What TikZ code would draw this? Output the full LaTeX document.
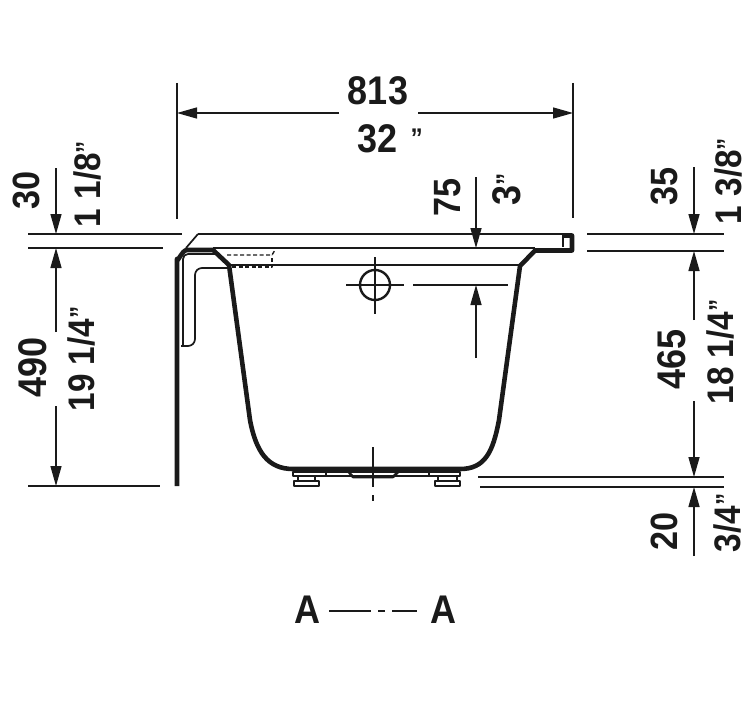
\documentclass[tikz,border=0pt]{standalone}
\usepackage{fontspec}
\setmainfont[FakeStretch=0.9]{Liberation Sans}
\usetikzlibrary{arrows.meta}
\definecolor{ink}{HTML}{1A1A1A}
\newcommand{\inch}{\raisebox{.14em}{\fontsize{27}{27}\selectfont ”}}

\begin{document}
\begin{tikzpicture}[x=1pt, y=-1pt, color=ink, line join=round,
    >={Triangle[length=20pt, width=11pt]},
    dim/.style = {line width=1.5pt},
    fine/.style = {line width=1.7pt},
    hull/.style = {line width=4.6pt},
    hidden/.style = {line width=1.4pt, dash pattern=on 4pt off 2.5pt},
    big/.style = {font=\fontsize{40}{40}\selectfont\bfseries, inner sep=0pt},
    mid/.style = {font=\fontsize{38}{38}\selectfont\bfseries, inner sep=0pt, rotate=90},
    small/.style = {font=\fontsize{37}{37}\selectfont\bfseries, inner sep=0pt, rotate=90},
    sect/.style = {font=\fontsize{40}{40}\selectfont\bfseries, inner sep=0pt}]
            \useasboundingbox (0,0) rectangle (755,701);

            %the tub

            \draw[hull] (177,486) -- (177,259) to [out=-90, in=180] (187,250) -- (213,250) -- (229,265) -- (250,420)
                .. controls (256,452) and (268,469) .. (293,469) -- (460,469)
                .. controls (485,469) and (493,452) .. (499,420) -- (520,266) -- (535,250.5) -- (572,250.5) -- (572,235.5) -- (563,235.5);
            \draw[fine] (563,234) -- (563,247);
            \draw[fine] (198,234) -- (565,234);
            \draw[fine] (186,248) -- (198,234);
            \draw[fine] (213,248) -- (535,248);
            \draw[fine] (228,265) -- (520,265);

            %the flange

            \draw[fine, rounded corners=5pt] (183,346) -- (183,254) -- (215,254);
            \draw[fine, rounded corners=7pt] (181,346) -- (195,346) -- (195,268) -- (229,268);
            \draw[hidden] (227,255) -- (272,255) -- (275,250);
            \draw[hidden] (232,267) -- (272,267) -- (272,255);

            %the feet and the drain

            \draw[fine] (293,472) rectangle (460,476);
            \draw[fine] (326,470) -- (326,476);
            \draw[fine] (429,470) -- (429,476);
            \draw[fine] (294,481) rectangle (319,486);
            \draw[fine] (298,476) -- (298,481);
            \draw[fine] (315,476) -- (315,481);
            \draw[fine] (435,481) rectangle (460,486);
            \draw[fine] (438,476) -- (438,481);
            \draw[fine] (457,476) -- (457,481);
            \draw[line width=2.6pt] (347,470) -- (353,477) -- (393,477) -- (400,470);

            %the overflow and the centre lines

            \draw[line width=2.4pt] (375,285) circle (15pt);
            \draw[dim] (375,257) -- (375,314);
            \draw[dim] (346,285) -- (404,285);
            \draw[dim] (373,447) -- (373,487);
            \draw[dim] (373,495) -- (373,501);

            %above the tub

            \coordinate (W1) at (177,113);
            \coordinate (W2) at (339,113);
            \coordinate (W3) at (418,113);
            \coordinate (W4) at (573,113);
            \node[big] (T813) at (378,91) {813};
            \node[big, anchor=west] (T32) at (357,139) {32\,\,\inch};
            \draw[->, dim] (W2) -- (W1);
            \draw[->, dim] (W3) -- (W4);
            \draw[dim] (177,83) -- (177,219);
            \draw[dim] (573,83) -- (573,218);

            \coordinate (R1) at (476,177);
            \coordinate (R2) at (476,248);
            \coordinate (O1) at (476,358);
            \coordinate (O2) at (476,285);
            \node[mid] (T75) at (448,197) {75};
            \node[big, rotate=90] (T3) at (507,189) {3\inch};
            \draw[->, dim] (R1) -- (R2);
            \draw[->, dim] (O1) -- (O2);
            \draw[dim] (413,285) -- (508,285);

            %the left side

            \draw[fine] (28,234) -- (182,234);
            \draw[fine] (28,248) -- (163,248);
            \draw[fine] (28,486) -- (160,486);
            \coordinate (L1) at (56,168);
            \coordinate (L2) at (56,234);
            \coordinate (L3) at (56,332);
            \coordinate (L4) at (56,248);
            \coordinate (L5) at (56,406);
            \coordinate (L6) at (56,486);
            \node[mid] (T30) at (26,190) {30};
            \node[small] (T118) at (87,184) {1 1/8\inch};
            \node[big, rotate=90] (T490) at (33,367) {490};
            \node[small] (T19) at (81,359) {19 1/4\inch};
            \draw[->, dim] (L1) -- (L2);
            \draw[->, dim] (L3) -- (L4);
            \draw[->, dim] (L5) -- (L6);

            %the right side

            \draw[fine] (587,234) -- (724,234);
            \draw[fine] (587,251) -- (724,251);
            \draw[fine] (478,477) -- (724,477);
            \draw[fine] (480,487) -- (724,487);
            \coordinate (K1) at (694,167);
            \coordinate (K2) at (694,234);
            \coordinate (K3) at (694,320);
            \coordinate (K4) at (694,251);
            \coordinate (K5) at (694,401);
            \coordinate (K6) at (694,477);
            \coordinate (K7) at (694,556);
            \coordinate (K8) at (694,487);
            \node[mid] (T35) at (664,186) {35};
            \node[small] (T138) at (728,181) {1 3/8\inch};
            \node[big, rotate=90] (T465) at (672,359) {465};
            \node[small] (T18) at (720,352) {18 1/4\inch};
            \node[mid] (T20) at (664,531) {20};
            \node[small] (T34) at (727,523) {3/4\inch};
            \draw[->, dim] (K1) -- (K2);
            \draw[->, dim] (K3) -- (K4);
            \draw[->, dim] (K5) -- (K6);
            \draw[->, dim] (K7) -- (K8);

            %the section mark

            \node[sect] (A1) at (307,610) {A};
            \node[sect] (A2) at (443,610) {A};
            \draw[dim] (329,611) -- (371,611);
            \draw[dim] (378,611) -- (385,611);
            \draw[dim] (392,611) -- (417,611);
        \end{tikzpicture}
\end{document}
